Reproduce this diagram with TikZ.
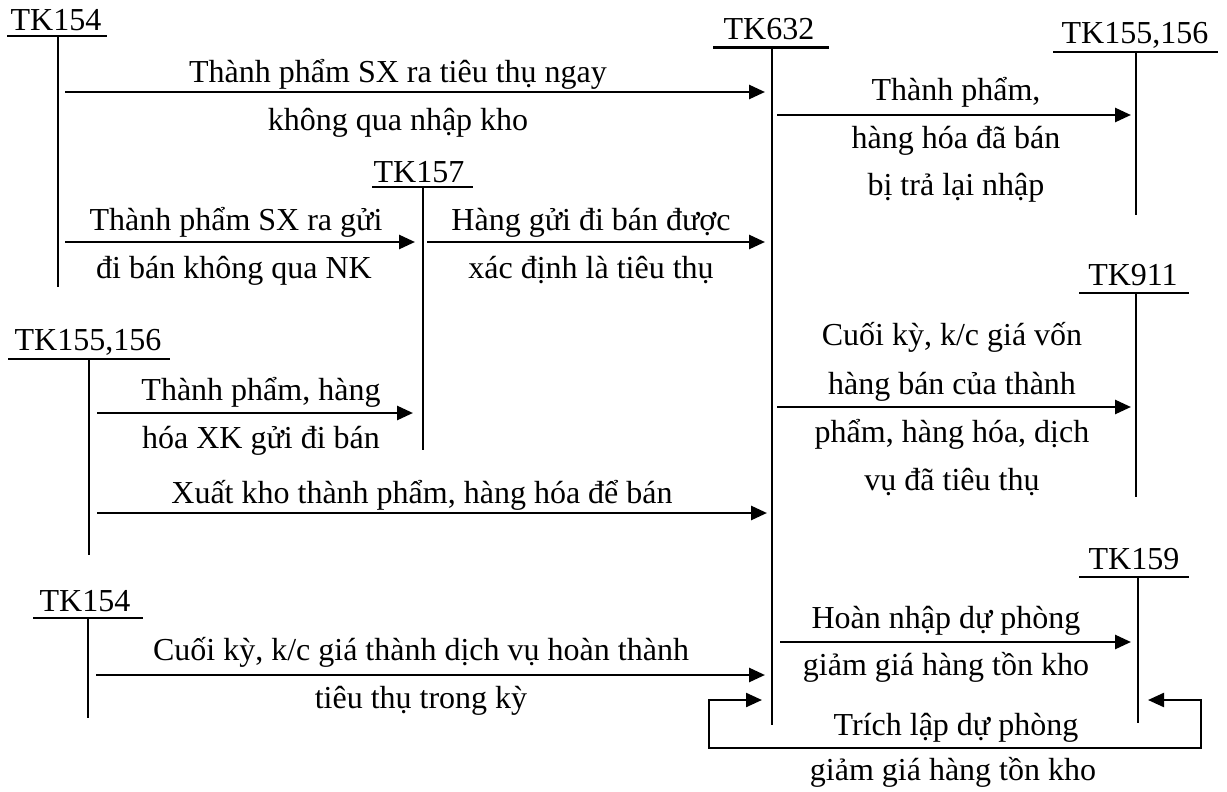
\documentclass[tikz,border=0pt]{standalone}
\usepackage{fontspec}
\setmainfont{Liberation Serif}
\usetikzlibrary{arrows.meta}
\begin{document}
\begin{tikzpicture}[x=1pt,y=-1pt,
  tline/.style={line width=2.2pt},
  arr/.style={line width=2.7pt,-{Triangle[length=16pt,width=14pt]}},
  darr/.style={line width=2.3pt,{Triangle[length=16pt,width=14pt]}-{Triangle[length=16pt,width=14pt]}},
  lbl/.style={anchor=base,inner sep=0pt,font=\fontsize{32}{38}\selectfont},
  tit/.style={anchor=base,inner sep=0pt,font=\fontsize{32}{38}\selectfont}]
\useasboundingbox (0,0) rectangle (1227,792);
\fill[white] (0,0) rectangle (1227,792);

% ---- T accounts: title, underline, vertical ----
\node[tit] (tA) at (56,31) {TK154};
\coordinate (tAl) at (7,36); \coordinate (tAr) at (107,36);
\coordinate (tAt) at (58,36); \coordinate (tAb) at (58,287);
\draw[tline] (tAl) -- (tAr); \draw[tline] (tAt) -- (tAb);

\node[tit] (tB) at (769,40) {TK632};
\coordinate (tBl) at (713,47.5); \coordinate (tBr) at (829,47.5);
\coordinate (tBt) at (772,47.5); \coordinate (tBb) at (772,725);
\draw[tline] (tBl) -- (tBr); \draw[tline] (tBt) -- (tBb);

\node[tit] (tC) at (1135,44) {TK155,156};
\coordinate (tCl) at (1053,52); \coordinate (tCr) at (1218,52);
\coordinate (tCt) at (1136,52); \coordinate (tCb) at (1136,215);
\draw[tline] (tCl) -- (tCr); \draw[tline] (tCt) -- (tCb);

\node[tit] (tD) at (419,182) {TK157};
\coordinate (tDl) at (372,187); \coordinate (tDr) at (473,187);
\coordinate (tDt) at (423,187); \coordinate (tDb) at (423,450);
\draw[tline] (tDl) -- (tDr); \draw[tline] (tDt) -- (tDb);

\node[tit] (tE) at (1133,285) {TK911};
\coordinate (tEl) at (1079,293); \coordinate (tEr) at (1189,293);
\coordinate (tEt) at (1136,293); \coordinate (tEb) at (1136,497);
\draw[tline] (tEl) -- (tEr); \draw[tline] (tEt) -- (tEb);

\node[tit] (tF) at (88,350) {TK155,156};
\coordinate (tFl) at (8,359); \coordinate (tFr) at (170,359);
\coordinate (tFt) at (89,359); \coordinate (tFb) at (89,555);
\draw[tline] (tFl) -- (tFr); \draw[tline] (tFt) -- (tFb);

\node[tit] (tG) at (85,611) {TK154};
\coordinate (tGl) at (33,618); \coordinate (tGr) at (143,618);
\coordinate (tGt) at (88,618); \coordinate (tGb) at (88,718);
\draw[tline] (tGl) -- (tGr); \draw[tline] (tGt) -- (tGb);

\node[tit] (tH) at (1134,569) {TK159};
\coordinate (tHl) at (1079,577); \coordinate (tHr) at (1189,577);
\coordinate (tHt) at (1138,577); \coordinate (tHb) at (1138,723);
\draw[tline] (tHl) -- (tHr); \draw[tline] (tHt) -- (tHb);

% ---- arrows ----
\coordinate (a1s) at (65,92);  \coordinate (a1e) at (765,92);
\draw[arr] (a1s) -- (a1e);
\node[lbl] (l1a) at (398,82) {Thành phẩm SX ra tiêu thụ ngay};
\node[lbl] (l1b) at (398,130) {không qua nhập kho};

\coordinate (a2s) at (777,115); \coordinate (a2e) at (1131,115);
\draw[arr] (a2s) -- (a2e);
\node[lbl] (l2a) at (956,100) {Thành phẩm,};
\node[lbl] (l2b) at (956,148) {hàng hóa đã bán};
\node[lbl] (l2c) at (956,195) {bị trả lại nhập};

\coordinate (a3s) at (65,242); \coordinate (a3e) at (415,242);
\draw[arr] (a3s) -- (a3e);
\node[lbl] (l3a) at (236,230) {Thành phẩm SX ra gửi};
\node[lbl] (l3b) at (234,278) {đi bán không qua NK};

\coordinate (a4s) at (427,242); \coordinate (a4e) at (765,242);
\draw[arr] (a4s) -- (a4e);
\node[lbl] (l4a) at (591,230) {Hàng gửi đi bán được};
\node[lbl] (l4b) at (591,278) {xác định là tiêu thụ};

\coordinate (a5s) at (97,413); \coordinate (a5e) at (413,413);
\draw[arr] (a5s) -- (a5e);
\node[lbl] (l5a) at (261,400) {Thành phẩm, hàng};
\node[lbl] (l5b) at (261,448) {hóa XK gửi đi bán};

\coordinate (a6s) at (97,513); \coordinate (a6e) at (767,513);
\draw[arr] (a6s) -- (a6e);
\node[lbl] (l6a) at (422,503) {Xuất kho thành phẩm, hàng hóa để bán};

\coordinate (a7s) at (777,407); \coordinate (a7e) at (1131,407);
\draw[arr] (a7s) -- (a7e);
\node[lbl] (l7a) at (952,345) {Cuối kỳ, k/c giá vốn};
\node[lbl] (l7b) at (952,394) {hàng bán của thành};
\node[lbl] (l7c) at (952,442) {phẩm, hàng hóa, dịch};
\node[lbl] (l7d) at (952,490) {vụ đã tiêu thụ};

\coordinate (a8s) at (96,675); \coordinate (a8e) at (765,675);
\draw[arr] (a8s) -- (a8e);
\node[lbl] (l8a) at (421,660) {Cuối kỳ, k/c giá thành dịch vụ hoàn thành};
\node[lbl] (l8b) at (421,708) {tiêu thụ trong kỳ};

\coordinate (a9s) at (780,642); \coordinate (a9e) at (1131,642);
\draw[arr] (a9s) -- (a9e);
\node[lbl] (l9a) at (946,628) {Hoàn nhập dự phòng};
\node[lbl] (l9b) at (946,675) {giảm giá hàng tồn kho};

% loop arrow (TK159 -> TK632)
\coordinate (bR) at (1148,700); \coordinate (bL) at (762,700);
\coordinate (c1) at (1201,700); \coordinate (c2) at (1201,748);
\coordinate (c3) at (709,748);  \coordinate (c4) at (709,700);
\draw[darr] (bR) -- (c1) -- (c2) -- (c3) -- (c4) -- (bL);
\node[lbl] (l10a) at (956,735) {Trích lập dự phòng};
\node[lbl] (l10b) at (953,780) {giảm giá hàng tồn kho};
\end{tikzpicture}
\end{document}
